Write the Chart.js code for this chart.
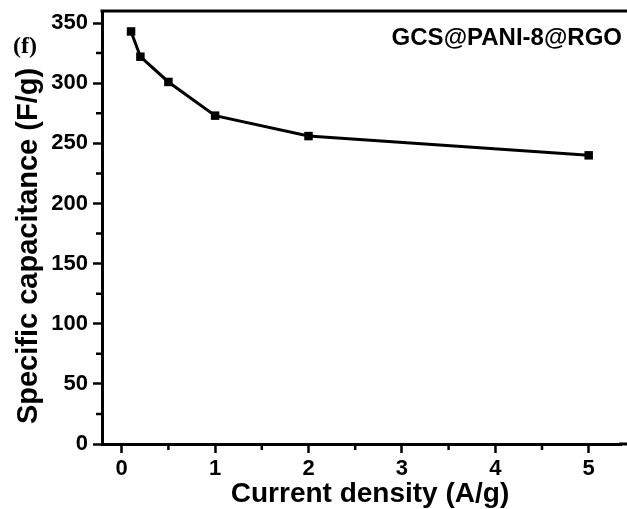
<!DOCTYPE html>
<html>
<head>
<meta charset="utf-8">
<script src="https://cdn.jsdelivr.net/npm/chart.js@4"></script>
<style>
  html, body { margin: 0; padding: 0; background: #fff; }
  #wrap { width: 627px; height: 509px; }
</style>
</head>
<body>
<div id="wrap"><canvas id="myChart" width="627" height="509"></canvas></div>
<script>
// values
var currentDensity = [0.1, 0.2, 0.5, 1, 2, 5];
var capacitance = [343, 322, 301, 273, 256, 240];
var xTickLabels = ['0', '1', '2', '3', '4', '5'];
var yTickLabels = ['0', '50', '100', '150', '200', '250', '300', '350'];
var xTitle = 'Current density (A/g)';
var yTitle = 'Specific capacitance (F/g)';
var sampleName = 'GCS@PANI-8@RGO';
var panelLabel = '(f)';

var points = currentDensity.map(function (x, i) { return { x: x, y: capacitance[i] }; });

// frame lines, minor ticks, axis titles and text labels
var extras = {
  id: 'extras',
  afterDraw: function (chart) {
    var ctx = chart.ctx;
    var area = chart.chartArea;
    var xs = chart.scales.x, ys = chart.scales.y;
    ctx.save();
    ctx.strokeStyle = '#000';
    ctx.lineWidth = 3;
    ctx.beginPath();
    ctx.moveTo(area.left - 1.5, area.top);
    ctx.lineTo(chart.width, area.top);
    ctx.moveTo(area.right - 2, area.bottom);
    ctx.lineTo(chart.width, area.bottom);
    ctx.stroke();

    // minor ticks
    ctx.lineWidth = 2.5;
    ctx.beginPath();
    for (var v = 0.5; v < 5.4; v += 1) {
      var px = xs.getPixelForValue(v);
      ctx.moveTo(px, area.bottom);
      ctx.lineTo(px, area.bottom + 6);
    }
    for (var w = 25; w < 360; w += 50) {
      var py = ys.getPixelForValue(w);
      ctx.moveTo(area.left, py);
      ctx.lineTo(area.left - 6, py);
    }
    ctx.stroke();

    ctx.fillStyle = '#000';
    ctx.textBaseline = 'alphabetic';

    ctx.font = 'bold 28px "Liberation Sans", Arial, sans-serif';
    ctx.textAlign = 'center';
    ctx.fillText(xTitle, 370, 502);

    ctx.save();
    ctx.translate(37, 246);
    ctx.rotate(-Math.PI / 2);
    ctx.font = 'bold 29px "Liberation Sans", Arial, sans-serif';
    ctx.fillText(yTitle, 0, 0);
    ctx.restore();

    ctx.font = 'bold 24px "Liberation Sans", Arial, sans-serif';
    ctx.textAlign = 'right';
    ctx.fillText(sampleName, 622, 45);

    ctx.font = 'bold 24px "Liberation Serif", "Times New Roman", serif';
    ctx.textAlign = 'left';
    ctx.fillText(panelLabel, 13, 53);
    ctx.restore();
  }
};

var ctx = document.getElementById('myChart').getContext('2d');
var chart = new Chart(ctx, {
  type: 'scatter',
  data: {
    datasets: [{
      data: points,
      showLine: true,
      borderColor: '#000',
      backgroundColor: '#000',
      borderWidth: 3,
      pointStyle: 'rect',
      pointRadius: 6,
      pointHoverRadius: 6,
      pointBorderWidth: 0
    }]
  },
  options: {
    responsive: false,
    animation: false,
    layout: { padding: { top: 11, right: 0, left: 0, bottom: 0 } },
    plugins: { legend: { display: false }, tooltip: { enabled: false } },
    scales: {
      x: {
        type: 'linear',
        min: -0.211,
        max: 5.346,
        afterBuildTicks: function (scale) {
          scale.ticks = xTickLabels.map(function (t) { return { value: Number(t) }; });
        },
        ticks: {
          color: '#000',
          font: { family: '"Liberation Sans", Arial, sans-serif', size: 22, weight: 'bold' },
          padding: 3,
          maxRotation: 0,
          callback: function (v) { return String(v); }
        },
        grid: { drawOnChartArea: false, tickLength: 9, tickWidth: 2.5, tickColor: '#000' },
        border: { color: '#000', width: 3 },
        afterFit: function (scale) {
          scale.height = 65;
          scale.paddingLeft = 0;
          scale.paddingRight = 0;
        }
      },
      y: {
        type: 'linear',
        min: 0,
        max: 360,
        afterBuildTicks: function (scale) {
          scale.ticks = yTickLabels.map(function (t) { return { value: Number(t) }; });
        },
        ticks: {
          color: '#000',
          font: { family: '"Liberation Sans", Arial, sans-serif', size: 22, weight: 'bold' },
          padding: 5,
          callback: function (v) { return String(v); }
        },
        grid: { drawOnChartArea: false, tickLength: 9, tickWidth: 2.5, tickColor: '#000' },
        border: { color: '#000', width: 3 },
        afterFit: function (scale) {
          scale.width = 102;
          scale.paddingTop = 0;
          scale.paddingBottom = 0;
        }
      }
    }
  },
  plugins: [extras]
});
</script>
</body>
</html>
